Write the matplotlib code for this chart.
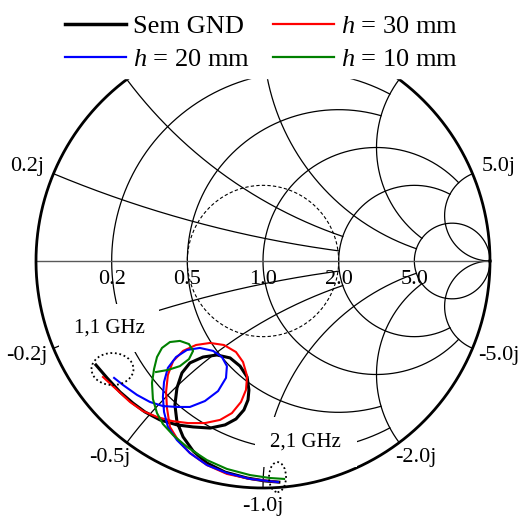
import numpy as np
import matplotlib.pyplot as plt
from matplotlib.patches import Ellipse

plt.rcParams['font.family'] = 'Liberation Serif'
plt.rcParams['mathtext.fontset'] = 'custom'
plt.rcParams['mathtext.rm'] = 'Liberation Serif'
plt.rcParams['mathtext.it'] = 'Liberation Serif:italic'

# Smith chart grid: resistance circles / reactance arcs and how far each one is drawn
r_circles = [0.2, 0.5, 1.0, 2.0, 5.0]
r_xlimit = [2.0, 2.0, 5.0, 5.0, 1e4]
x_arcs = [0.2, 0.5, 1.0, 2.0, 5.0]
x_rlimit = [2.0, 2.0, 5.0, 5.0, 1e4]
# reactance labels left visible below the legend band
x_labels = [0.2, 5.0, -0.2, -0.5, -1.0, -2.0, -5.0]

# measured reflection coefficient (Re, Im), 1.1 GHz -> 2.1 GHz
sem_gnd_re = [-0.736, -0.687, -0.630, -0.573, -0.520, -0.454, -0.379, -0.308, -0.233, -0.167,
              -0.119, -0.084, -0.066, -0.062, -0.070, -0.101, -0.145, -0.203, -0.264, -0.322,
              -0.357, -0.379, -0.388, -0.379, -0.352, -0.308, -0.247, -0.167, -0.070, 0.009, 0.070]
sem_gnd_im = [-0.458, -0.515, -0.577, -0.626, -0.665, -0.700, -0.722, -0.731, -0.736, -0.722,
              -0.696, -0.656, -0.612, -0.568, -0.511, -0.463, -0.427, -0.414, -0.423, -0.449,
              -0.493, -0.559, -0.634, -0.709, -0.775, -0.837, -0.890, -0.930, -0.956, -0.969, -0.974]

h30_re = [-0.705, -0.643, -0.586, -0.529, -0.467, -0.401, -0.330, -0.256, -0.189, -0.137,
          -0.097, -0.075, -0.070, -0.088, -0.119, -0.172, -0.233, -0.295, -0.352, -0.396,
          -0.419, -0.427, -0.423, -0.410, -0.374, -0.322, -0.247, -0.159, -0.057, 0.066]
h30_im = [-0.511, -0.568, -0.621, -0.661, -0.687, -0.705, -0.714, -0.714, -0.700, -0.670,
          -0.621, -0.568, -0.507, -0.445, -0.401, -0.370, -0.361, -0.370, -0.396, -0.441,
          -0.502, -0.577, -0.648, -0.731, -0.789, -0.846, -0.899, -0.938, -0.960, -0.974]

h20_re = [-0.656, -0.617, -0.555, -0.498, -0.441, -0.379, -0.322, -0.256, -0.198, -0.163,
          -0.159, -0.181, -0.220, -0.278, -0.335, -0.383, -0.419, -0.436, -0.441, -0.436,
          -0.419, -0.379, -0.322, -0.247, -0.159, -0.057, 0.066]
h20_im = [-0.515, -0.546, -0.590, -0.621, -0.639, -0.643, -0.643, -0.617, -0.573, -0.515,
          -0.463, -0.423, -0.396, -0.383, -0.392, -0.423, -0.471, -0.533, -0.599, -0.665,
          -0.731, -0.789, -0.846, -0.899, -0.934, -0.960, -0.974]

h10_re = [-0.471, -0.419, -0.366, -0.326, -0.308, -0.326, -0.366, -0.410, -0.445, -0.467,
          -0.480, -0.489, -0.485, -0.467, -0.441, -0.396, -0.335, -0.247, -0.159, -0.057,
          0.031, 0.093]
h10_im = [-0.489, -0.480, -0.463, -0.432, -0.396, -0.366, -0.352, -0.357, -0.383, -0.423,
          -0.476, -0.537, -0.608, -0.670, -0.718, -0.767, -0.819, -0.877, -0.916, -0.943,
          -0.956, -0.960]


def gamma(z):
    g = (z - 1) / (z + 1)
    return g.real, g.imag


fig = plt.figure(figsize=(5.18, 5.21), dpi=100)
ax = fig.add_axes([0, 0, 1, 1])
ax.set_xlim(-263 / 227, 255 / 227)
ax.set_ylim(-260 / 227, 261 / 227)
ax.axis('off')

grid_kw = dict(color='black', lw=0.9, zorder=1)
for r, xm in zip(r_circles, r_xlimit):
    x = np.tan(np.linspace(-np.arctan(xm), np.arctan(xm), 3000))
    ax.plot(*gamma(r + 1j * x), **grid_kw)
for xv, rm in zip(x_arcs, x_rlimit):
    r = np.tan(np.linspace(0, np.arctan(rm), 3000))
    ax.plot(*gamma(r + 1j * xv), **grid_kw)
    ax.plot(*gamma(r - 1j * xv), **grid_kw)

t = np.linspace(0, 2 * np.pi, 600)
ax.plot(np.cos(t) / 3, np.sin(t) / 3, color='black', lw=0.8, ls=(0, (3, 2)), zorder=1)
ax.plot([-1, 1], [0, 0], color='0.35', lw=1.0, zorder=1)
ax.plot(np.cos(t), np.sin(t), color='black', lw=2.0, zorder=2)

for r in r_circles:
    ax.text((r - 1) / (r + 1), -0.04, f'{r:.1f}', ha='center', va='top', fontsize=16, zorder=2)
for xv in x_labels:
    gx, gy = gamma(np.array(1j * xv))
    ax.text(1.125 * gx, 1.08 * gy, f'{xv:.1f}j', ha='center', va='center', fontsize=16, zorder=2)

# frequency annotations
ax.text(-0.677, -0.295, '1,1 GHz', ha='center', va='center', fontsize=15, zorder=3,
        bbox=dict(boxstyle='square,pad=0.7', fc='white', ec='none'))
ax.text(0.189, -0.797, '2,1 GHz', ha='center', va='center', fontsize=15, zorder=3,
        bbox=dict(boxstyle='square,pad=0.75', fc='white', ec='none'))
dot_kw = dict(fill=False, ec='black', lw=1.3, ls=(0, (1, 1.5)), zorder=5)
ax.add_patch(Ellipse((-0.663, -0.476), 0.185, 0.141, **dot_kw))
ax.add_patch(Ellipse((0.064, -0.952), 0.075, 0.132, **dot_kw))

l_sem, = ax.plot(sem_gnd_re, sem_gnd_im, color='black', lw=2.2, zorder=4, label='Sem GND')
l_30, = ax.plot(h30_re, h30_im, color='red', lw=1.5, zorder=4, label='$h$ = 30 mm')
l_20, = ax.plot(h20_re, h20_im, color='blue', lw=1.5, zorder=4, label='$h$ = 20 mm')
l_10, = ax.plot(h10_re, h10_im, color='green', lw=1.5, zorder=4, label='$h$ = 10 mm')

# white band behind the legend
ax.axhspan(183 / 227, 2, color='white', zorder=6)
leg = fig.legend(handles=[l_sem, l_20, l_30, l_10], ncol=2, loc='upper center',
                 bbox_to_anchor=(0.505, 0.997), frameon=False, fontsize=19,
                 handlelength=2.3, handletextpad=0.27, columnspacing=0.9,
                 labelspacing=0.35, borderpad=0)
leg.set_zorder(7)
for line in leg.get_lines():
    line.set_linewidth(2.5 if line.get_color() == 'black' else 1.6)

fig.savefig('out.png', dpi=100)
